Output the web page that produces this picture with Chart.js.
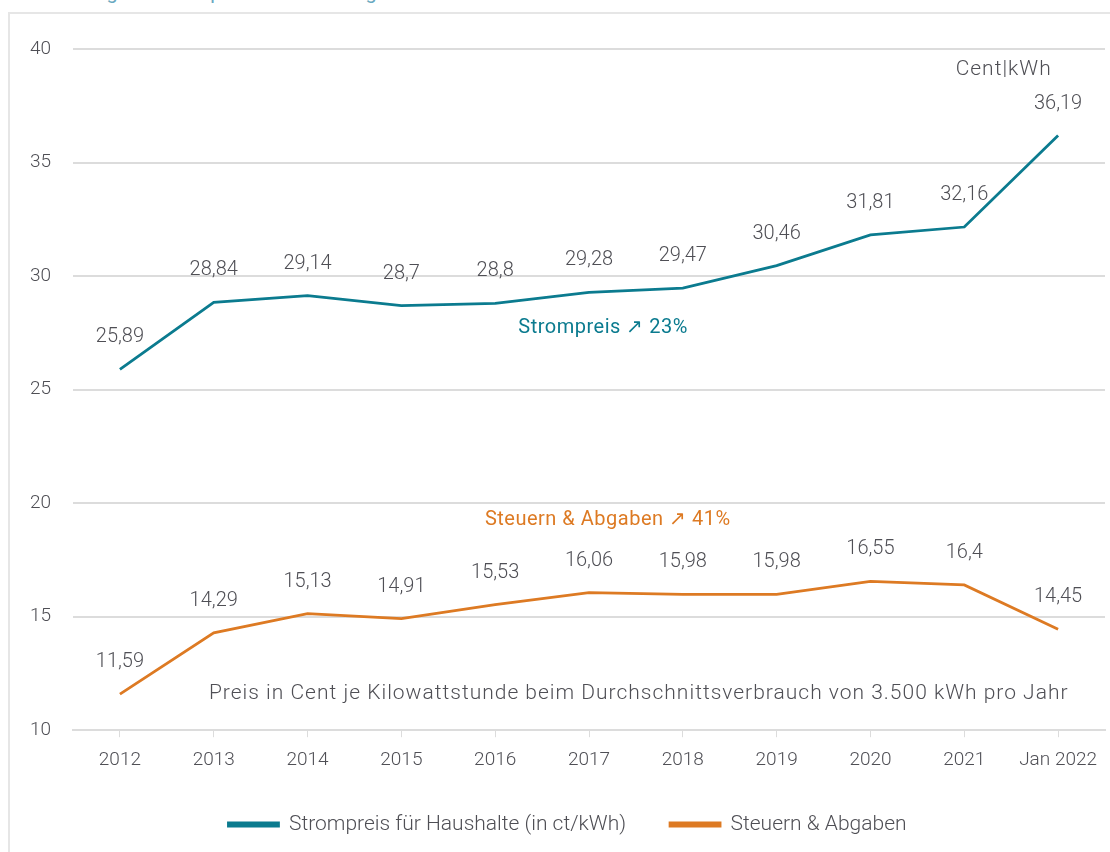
<!DOCTYPE html>
<html>
<head>
<meta charset="utf-8">
<script src="https://cdn.jsdelivr.net/npm/chart.js@4"></script>
<style>
    html, body { margin: 0; padding: 0; background: #ffffff; }
    body { width: 1110px; height: 852px; position: relative; overflow: hidden; }
    .frame { position: absolute; left: 8px; top: 12px; width: 1200px; height: 1000px; border: 2px solid #e6e6e6; }
    .title { position: absolute; left: 10px; top: -20px; font: 400 20px Roboto, sans-serif; color: #6aa8c0; white-space: nowrap; }
    canvas { position: absolute; left: 0; top: 0; }
</style>
</head>
<body>
<div class="title">Entwicklung der Strompreise und der Abgaben</div>
<div class="frame"></div>
<canvas id="chart" width="1110" height="852"></canvas>
<script>
const years = ['2012', '2013', '2014', '2015', '2016', '2017', '2018', '2019', '2020', '2021', 'Jan 2022'];
const strompreis = [25.89, 28.84, 29.14, 28.7, 28.8, 29.28, 29.47, 30.46, 31.81, 32.16, 36.19];
const steuern = [11.59, 14.29, 15.13, 14.91, 15.53, 16.06, 15.98, 15.98, 16.55, 16.4, 14.45];
const yTicks = [10, 15, 20, 25, 30, 35, 40];

const TEAL = '#0b7b8f';
const ORANGE = '#dd7a23';
const GRAY = '#4f4f55';
const FONT = 'Roboto, sans-serif';

// value labels above each point, plus the free text notes
const labelPlugin = {
    id: 'labels',
    afterDatasetsDraw(chart) {
        const ctx = chart.ctx;
        const x = chart.scales.x;
        const y = chart.scales.y;
        ctx.save();
        ctx.textAlign = 'center';
        ctx.textBaseline = 'middle';
        ctx.font = '300 20px ' + FONT;
        ctx.fillStyle = GRAY;
        chart.data.datasets.forEach((ds, i) => {
            chart.getDatasetMeta(i).data.forEach((pt, j) => {
                ctx.fillText(String(ds.data[j]).replace('.', ','), pt.x, pt.y - 32);
            });
        });

        ctx.font = '300 21px ' + FONT;
        ctx.letterSpacing = '1px';
        ctx.fillText('Cent|kWh', x.getPixelForValue(9.42), y.getPixelForValue(39.07));
        ctx.fillText('Preis in Cent je Kilowattstunde beim Durchschnittsverbrauch von 3.500 kWh pro Jahr',
            x.getPixelForValue(5.53), y.getPixelForValue(11.6));

        ctx.font = '400 20px ' + FONT;
        ctx.letterSpacing = '0.5px';
        ctx.fillStyle = TEAL;
        ctx.fillText('Strompreis \u2197 23%', x.getPixelForValue(5.15), y.getPixelForValue(27.7));
        ctx.fillStyle = ORANGE;
        ctx.fillText('Steuern & Abgaben \u2197 41%', x.getPixelForValue(5.2), y.getPixelForValue(19.25));
        ctx.restore();
    }
};

new Chart(document.getElementById('chart'), {
    type: 'line',
    data: {
        labels: years,
        datasets: [{
            label: 'Strompreis für Haushalte (in ct/kWh)',
            data: strompreis,
            borderColor: TEAL,
            backgroundColor: TEAL,
            borderWidth: 2.8,
            pointRadius: 0,
            tension: 0
        }, {
            label: 'Steuern & Abgaben',
            data: steuern,
            borderColor: ORANGE,
            backgroundColor: ORANGE,
            borderWidth: 2.8,
            pointRadius: 0,
            tension: 0
        }]
    },
    options: {
        responsive: false,
        animation: false,
        layout: {
            padding: { left: 30, right: 5, top: 49, bottom: 7 }
        },
        scales: {
            x: {
                offset: true,
                afterFit(scale) {
                    scale.height -= 14;
                },
                grid: {
                    display: true,
                    drawOnChartArea: false,
                    drawTicks: true,
                    tickLength: 7,
                    color: '#dcdcdc'
                },
                border: { color: '#dcdcdc', width: 2 },
                ticks: {
                    color: GRAY,
                    font: { family: FONT, size: 19, weight: '300' },
                    padding: 12,
                    maxRotation: 0,
                    autoSkip: false
                }
            },
            y: {
                min: 10,
                max: 40,
                afterBuildTicks(scale) {
                    scale.ticks = yTicks.map(v => ({ value: v }));
                },
                afterFit(scale) {
                    scale.width = 43;
                },
                grid: {
                    color: '#dcdcdc',
                    lineWidth: 2,
                    drawTicks: false
                },
                border: { display: false },
                ticks: {
                    color: GRAY,
                    font: { family: FONT, size: 19, weight: '300' },
                    padding: 22
                }
            }
        },
        plugins: {
            legend: {
                position: 'bottom',
                labels: {
                    boxWidth: 50,
                    boxHeight: 3,
                    padding: 44,
                    color: GRAY,
                    font: { family: FONT, size: 21, weight: '300' }
                }
            },
            tooltip: { enabled: false }
        }
    },
    plugins: [labelPlugin]
});
</script>
</body>
</html>
